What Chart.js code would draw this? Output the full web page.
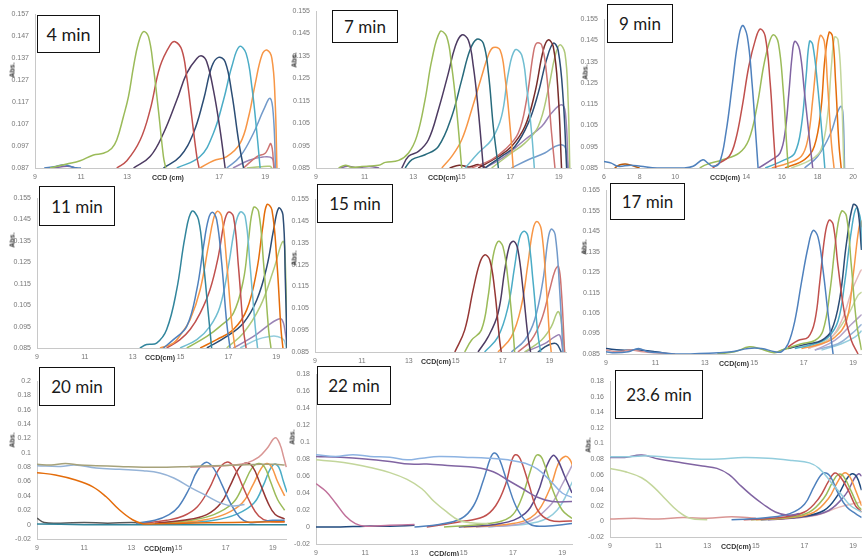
<!DOCTYPE html>
<html><head><meta charset="utf-8">
<script src="https://cdn.jsdelivr.net/npm/chart.js@4.4.0/dist/chart.umd.min.js"></script>
<style>
body{margin:0;width:862px;height:556px;background:#fff;position:relative;overflow:hidden;font-family:'Liberation Sans',sans-serif}
canvas{position:absolute}
.box{position:absolute;border:1.6px solid #111;background:#fff;font-family:Lato,'Open Sans',sans-serif;font-size:17px;color:#1a1a1a;display:flex;align-items:center;justify-content:center;box-sizing:border-box;white-space:nowrap}
.xt{position:absolute;font:bold 7px 'Liberation Sans',sans-serif;color:#333;transform:translate(-50%,-50%);white-space:nowrap}
.yt{position:absolute;font:bold 7px 'Liberation Sans',sans-serif;color:#333;transform:translate(-50%,-50%) rotate(-90deg);white-space:nowrap}
</style></head><body>
<script>
// ---------- tick labels ----------
const xTicks4 = [9, 11, 13, 17, 19];
const xTicksStd = [9, 11, 13, 15, 17, 19];
const xTicks9 = [6, 8, 10, 14, 16, 18, 20];
const yTicks4 = [0.087, 0.097, 0.107, 0.117, 0.127, 0.137, 0.147, 0.157];
const yTicks085 = [0.085, 0.095, 0.105, 0.115, 0.125, 0.135, 0.145, 0.155];
const yTicks17 = [0.085, 0.095, 0.105, 0.115, 0.125, 0.135, 0.145, 0.155, 0.165];
const yTicks20 = [-0.02, 0, 0.02, 0.04, 0.06, 0.08, 0.1, 0.12, 0.14, 0.16, 0.18, 0.2];
const yTicks22 = [-0.02, 0, 0.02, 0.04, 0.06, 0.08, 0.1, 0.12, 0.14, 0.16, 0.18];
const panelTitles = ['4 min', '7 min', '9 min', '11 min', '15 min', '17 min', '20 min', '22 min', '23.6 min'];

// ---------- series: [CCD (cm), Abs.] ----------
const series4min = [
 [[9.65,0.087],[10.38,0.0888],[10.96,0.0903],[11.54,0.0929],[11.97,0.0937],[12.33,0.0959],[12.55,0.0997],[12.84,0.1103],[13.06,0.1194],[13.28,0.1331],[13.49,0.1437],[13.71,0.149],[13.93,0.1467],[14.14,0.1331],[14.36,0.1134],[14.58,0.0922],[14.68,0.087]],
 [[12.55,0.087],[12.99,0.0903],[13.57,0.0997],[14.0,0.1134],[14.43,0.1331],[14.87,0.1429],[15.09,0.1444],[15.38,0.1406],[15.59,0.1285],[15.81,0.1103],[16.03,0.0922],[16.13,0.087]],
 [[13.28,0.087],[14.0,0.0922],[14.58,0.1028],[15.16,0.1179],[15.59,0.13],[16.03,0.1368],[16.25,0.1379],[16.46,0.1353],[16.75,0.1225],[17.04,0.1043],[17.26,0.087]],
 [[14.58,0.087],[15.3,0.0922],[15.88,0.1028],[16.32,0.1179],[16.68,0.1331],[16.97,0.1373],[17.26,0.1353],[17.55,0.1209],[17.84,0.0997],[18.06,0.087]],
 [[15.16,0.087],[16.17,0.0922],[16.75,0.1028],[17.19,0.1179],[17.55,0.1331],[17.88,0.1422],[18.17,0.1391],[18.42,0.124],[18.64,0.1028],[18.78,0.087]],
 [[16.17,0.087],[16.75,0.0903],[17.33,0.0922],[17.91,0.0982],[18.28,0.1103],[18.57,0.1255],[18.86,0.1384],[19.07,0.1406],[19.29,0.1368],[19.43,0.1179],[19.51,0.087]],
 [[17.33,0.087],[17.91,0.0922],[18.49,0.1028],[18.93,0.1134],[19.22,0.1187],[19.36,0.1103],[19.45,0.087]],
 [[18.06,0.087],[18.64,0.0922],[19.0,0.0937],[19.25,0.098],[19.38,0.087]],
 [[17.6,0.087],[18.3,0.0905],[18.9,0.092],[19.3,0.0915],[19.4,0.087]],
 [[9.4,0.087],[9.9,0.0877],[10.3,0.0885],[10.7,0.0872],[11.0,0.087]],
 [[9.8,0.087],[10.4,0.0878],[10.8,0.087]],
 [[18.2,0.087],[18.8,0.0876],[19.2,0.0878],[19.3,0.087]]
];
const colors4min = ['#9BBB59','#C0504D','#4D3B62','#2C4D75','#4BACC6','#F79646','#729ACA','#CD7371','#9983B5','#4F81BD','#8064A2','#AFC97A'];

const series7min = [
 [[9.93,0.085],[10.21,0.0862],[10.48,0.0853],[10.89,0.0857],[11.58,0.0862],[11.85,0.0875],[12.4,0.0884],[12.81,0.0917],[13.15,0.0991],[13.49,0.1154],[13.77,0.1332],[14.11,0.1458],[14.38,0.1436],[14.59,0.1302],[14.79,0.111],[15.0,0.085]],
 [[12.53,0.085],[12.81,0.0902],[13.22,0.0924],[13.63,0.0976],[14.04,0.111],[14.45,0.1273],[14.73,0.1391],[15.0,0.1443],[15.27,0.1421],[15.48,0.1302],[15.68,0.111],[15.89,0.085]],
 [[12.67,0.085],[12.95,0.0887],[13.49,0.0909],[14.04,0.0946],[14.59,0.108],[15.0,0.1243],[15.34,0.1376],[15.62,0.1424],[15.89,0.1406],[16.1,0.1273],[16.3,0.1035],[16.51,0.085]],
 [[14.18,0.085],[14.59,0.0902],[15.0,0.0976],[15.41,0.111],[15.82,0.1258],[16.1,0.1354],[16.3,0.1387],[16.58,0.1376],[16.78,0.1258],[16.99,0.1035],[17.12,0.085]],
 [[15.14,0.085],[15.68,0.0917],[16.23,0.0976],[16.64,0.108],[16.92,0.1273],[17.19,0.1376],[17.47,0.1354],[17.67,0.1213],[17.88,0.1006],[17.99,0.085]],
 [[15.41,0.085],[16.23,0.0887],[16.78,0.0932],[17.33,0.1006],[17.67,0.1154],[17.95,0.1362],[18.08,0.1406],[18.29,0.1399],[18.49,0.1273],[18.7,0.1006],[18.84,0.085]],
 [[15.68,0.085],[16.51,0.0902],[17.05,0.0946],[17.6,0.1035],[18.01,0.1184],[18.36,0.1376],[18.56,0.1421],[18.77,0.1391],[18.97,0.1184],[19.11,0.085]],
 [[15.96,0.085],[16.64,0.0902],[17.19,0.0946],[17.74,0.105],[18.15,0.1184],[18.49,0.1332],[18.77,0.1406],[18.97,0.1376],[19.18,0.1154],[19.32,0.085]],
 [[16.23,0.085],[17.05,0.0917],[17.6,0.0961],[18.15,0.1035],[18.56,0.1198],[18.84,0.1347],[19.04,0.1399],[19.25,0.1362],[19.38,0.1154],[19.45,0.085]],
 [[15.96,0.085],[16.78,0.0902],[17.6,0.0976],[18.29,0.1035],[18.7,0.1095],[19.11,0.1132],[19.27,0.1095],[19.38,0.085]],
 [[17.05,0.085],[17.74,0.0887],[18.42,0.0917],[18.84,0.0946],[19.11,0.0954],[19.27,0.094],[19.38,0.085]],
 [[10.0,0.085],[10.3,0.0858],[10.7,0.0852],[11.2,0.0857],[11.6,0.085]],
 [[14.5,0.085],[14.9,0.0862],[15.3,0.0855],[15.7,0.0865],[16.0,0.085]]
];
const colors7min = ['#9BBB59','#4D3B62','#276A7C','#F79646','#6FBDD1','#CD7371','#772C2A','#2C4D75','#AFC97A','#9983B5','#729ACA','#8064A2','#772C2A'];

const series9min = [
 [[6.0,0.0881],[6.41,0.0873],[6.77,0.0858],[7.51,0.0863],[8.06,0.0858],[8.98,0.085],[10.46,0.085],[11.01,0.0858],[11.56,0.0889],[11.84,0.0873],[12.11,0.0858],[12.48,0.0873],[12.85,0.1014],[13.22,0.1249],[13.5,0.143],[13.77,0.1519],[14.05,0.1469],[14.32,0.1249],[14.55,0.0983],[14.66,0.085]],
 [[12.11,0.085],[12.48,0.0873],[13.04,0.0905],[13.4,0.0983],[13.77,0.114],[14.14,0.1328],[14.51,0.1453],[14.78,0.1503],[15.06,0.1469],[15.34,0.1249],[15.52,0.1014],[15.65,0.085]],
 [[11.38,0.085],[11.75,0.0866],[12.67,0.0889],[13.59,0.092],[14.14,0.0983],[14.6,0.114],[14.97,0.1328],[15.28,0.1437],[15.52,0.1476],[15.8,0.1437],[16.07,0.1218],[16.26,0.0967],[16.35,0.085]],
 [[14.69,0.085],[15.43,0.0889],[15.89,0.092],[16.17,0.1014],[16.39,0.1202],[16.57,0.1375],[16.72,0.1445],[16.99,0.1406],[17.27,0.1202],[17.55,0.0983],[17.73,0.085]],
 [[15.06,0.085],[16.17,0.0889],[16.72,0.092],[17.09,0.1046],[17.36,0.1281],[17.55,0.1445],[17.73,0.143],[18.01,0.1234],[18.28,0.0983],[18.41,0.085]],
 [[15.43,0.085],[16.35,0.0873],[17.09,0.0905],[17.45,0.0983],[17.73,0.1171],[17.97,0.1375],[18.15,0.1472],[18.38,0.1445],[18.56,0.1249],[18.78,0.0967],[18.93,0.085]],
 [[16.17,0.085],[17.27,0.0889],[17.82,0.0952],[18.19,0.1124],[18.41,0.1359],[18.65,0.1487],[18.84,0.1469],[19.02,0.1249],[19.2,0.0967],[19.33,0.085]],
 [[16.53,0.085],[17.64,0.0889],[18.19,0.0936],[18.56,0.1093],[18.78,0.1328],[18.96,0.1465],[19.15,0.1453],[19.33,0.1249],[19.48,0.085]],
 [[17.27,0.085],[18.01,0.0905],[18.74,0.1014],[19.11,0.1108],[19.33,0.114],[19.44,0.1093],[19.52,0.085]],
 [[6.6,0.085],[6.9,0.0865],[7.3,0.0868],[7.7,0.0858],[8.0,0.085]]
];
const colors9min = ['#4F81BD','#C0504D','#9BBB59','#8064A2','#4BACC6','#F79646','#E46C0A','#C3D69B','#729ACA','#B65708'];

const series11min = [
 [[13.3,0.085],[13.58,0.0866],[14.0,0.0873],[14.42,0.0936],[14.84,0.1122],[15.19,0.1371],[15.47,0.1488],[15.75,0.1449],[15.96,0.1247],[16.16,0.1013],[16.3,0.085]],
 [[14.28,0.085],[14.7,0.0889],[15.26,0.0951],[15.68,0.1122],[15.96,0.1324],[16.16,0.1449],[16.33,0.1483],[16.51,0.1449],[16.72,0.1247],[16.93,0.0967],[17.07,0.085]],
 [[14.14,0.085],[14.7,0.0873],[15.05,0.092],[15.4,0.0982],[15.82,0.1122],[16.16,0.1324],[16.37,0.1449],[16.54,0.1488],[16.72,0.1464],[16.93,0.1247],[17.14,0.0967],[17.28,0.085]],
 [[14.42,0.085],[14.98,0.0889],[15.4,0.0936],[15.82,0.1013],[16.23,0.1122],[16.58,0.1278],[16.82,0.1433],[17.0,0.1484],[17.21,0.1464],[17.42,0.1231],[17.63,0.0936],[17.74,0.085]],
 [[14.98,0.085],[15.68,0.0889],[16.23,0.0951],[16.65,0.1044],[17.0,0.1231],[17.28,0.1418],[17.49,0.1484],[17.7,0.1464],[17.91,0.1231],[18.12,0.0951],[18.22,0.085]],
 [[15.26,0.085],[16.1,0.0904],[16.65,0.0951],[17.21,0.1013],[17.63,0.1169],[17.84,0.1355],[18.05,0.1506],[18.26,0.1488],[18.47,0.1247],[18.68,0.0936],[18.78,0.085]],
 [[15.82,0.085],[16.51,0.0889],[17.21,0.0936],[17.77,0.1029],[18.19,0.1215],[18.44,0.1418],[18.61,0.1519],[18.82,0.1495],[19.03,0.1247],[19.2,0.0936],[19.28,0.085]],
 [[16.1,0.085],[16.93,0.0904],[17.63,0.0967],[18.19,0.1075],[18.61,0.1231],[18.89,0.1402],[19.1,0.1503],[19.28,0.1472],[19.38,0.1169],[19.45,0.085]],
 [[16.93,0.085],[17.63,0.092],[18.33,0.1044],[18.89,0.1215],[19.28,0.1348],[19.38,0.1247],[19.45,0.085]],
 [[17.21,0.085],[18.05,0.0904],[18.61,0.0951],[19.03,0.0982],[19.24,0.0982],[19.38,0.092],[19.45,0.085]],
 [[17.49,0.085],[18.19,0.0889],[18.75,0.0904],[19.03,0.0904],[19.31,0.0889],[19.42,0.085]]
];
const colors11min = ['#31859C','#4F81BD','#F79646','#C0504D','#6FBDD1','#9BBB59','#E46C0A','#2C4D75','#AFC97A','#9983B5','#93CDDD'];

const series15min = [
 [[14.96,0.085],[15.38,0.095],[15.74,0.1133],[16.02,0.1256],[16.23,0.1294],[16.45,0.1271],[16.66,0.1133],[16.87,0.0904],[16.94,0.085]],
 [[15.38,0.085],[15.67,0.0904],[16.09,0.095],[16.38,0.1103],[16.59,0.1287],[16.8,0.1356],[17.01,0.1333],[17.23,0.1179],[17.44,0.095],[17.51,0.085]],
 [[15.95,0.085],[16.38,0.0919],[16.8,0.1026],[17.09,0.1225],[17.3,0.134],[17.48,0.1356],[17.65,0.1317],[17.87,0.1133],[18.08,0.0919],[18.19,0.085]],
 [[16.23,0.085],[16.8,0.0919],[17.23,0.1057],[17.51,0.1241],[17.72,0.1371],[17.91,0.1402],[18.08,0.1379],[18.29,0.1179],[18.5,0.0934],[18.62,0.085]],
 [[16.8,0.085],[17.37,0.0919],[17.79,0.1057],[18.08,0.1256],[18.29,0.1409],[18.46,0.1447],[18.65,0.1409],[18.86,0.1149],[19.0,0.0919],[19.07,0.085]],
 [[17.37,0.085],[17.94,0.0904],[18.36,0.0996],[18.72,0.1179],[18.93,0.1363],[19.07,0.1412],[19.24,0.1386],[19.43,0.1133],[19.57,0.085]],
 [[17.65,0.085],[18.22,0.0904],[18.65,0.0996],[19.0,0.1133],[19.24,0.1225],[19.38,0.1241],[19.5,0.1133],[19.64,0.085]],
 [[17.94,0.085],[18.65,0.0904],[19.07,0.0965],[19.35,0.1034],[19.47,0.1011],[19.64,0.085]],
 [[17.94,0.085],[18.79,0.0888],[19.21,0.0919],[19.43,0.0927],[19.57,0.085]],
 [[18.5,0.085],[18.93,0.0881],[19.28,0.0888],[19.5,0.085]]
];
const colors15min = ['#953735','#9BBB59','#4D3B62','#4BACC6','#F79646','#729ACA','#CD7371','#AFC97A','#9983B5','#2C4D75'];

const series17min = [
 [[9.0,0.0861],[9.36,0.0856],[9.9,0.0861],[10.31,0.0877],[10.71,0.0861],[11.25,0.0856],[11.79,0.085],[13.54,0.0856],[14.08,0.0861],[14.75,0.0877],[15.29,0.0877],[15.83,0.0861],[16.1,0.0861],[16.37,0.09],[16.64,0.1011],[16.91,0.12],[17.18,0.1374],[17.38,0.1453],[17.58,0.1421],[17.78,0.1263],[17.99,0.1043],[18.19,0.085]],
 [[16.37,0.0885],[16.77,0.0916],[17.18,0.0932],[17.45,0.1011],[17.65,0.12],[17.85,0.1421],[18.02,0.1503],[18.19,0.1484],[18.39,0.1279],[18.66,0.1043],[18.93,0.0916],[19.2,0.085]],
 [[16.1,0.0869],[16.91,0.09],[17.45,0.0916],[17.78,0.0964],[18.06,0.1153],[18.33,0.1437],[18.53,0.1547],[18.73,0.1524],[18.93,0.1279],[19.13,0.1011],[19.34,0.0869]],
 [[16.37,0.0877],[17.18,0.09],[17.72,0.0916],[18.12,0.0964],[18.46,0.1121],[18.73,0.139],[19.0,0.1579],[19.18,0.1563],[19.34,0.1358]],
 [[16.64,0.0877],[17.45,0.09],[17.99,0.0932],[18.39,0.1011],[18.66,0.12],[18.93,0.1453],[19.13,0.1563],[19.31,0.15],[19.35,0.1358]],
 [[16.91,0.0877],[17.72,0.09],[18.26,0.0932],[18.73,0.1011],[19.0,0.1232],[19.2,0.1437],[19.31,0.15],[19.35,0.1469]],
 [[17.18,0.0877],[17.99,0.0916],[18.53,0.1011],[18.93,0.1153],[19.27,0.1248],[19.35,0.1263]],
 [[17.18,0.0877],[18.12,0.0932],[18.8,0.1043],[19.2,0.1137],[19.35,0.1153]],
 [[17.45,0.0869],[18.26,0.0916],[18.93,0.0995],[19.35,0.1043]],
 [[17.45,0.0869],[18.39,0.09],[18.93,0.0948],[19.35,0.0995]],
 [[17.72,0.0869],[18.53,0.09],[19.07,0.0932],[19.35,0.0964]],
 [[9.0,0.0869],[9.5,0.0861],[10.0,0.0869],[10.5,0.0861],[11.0,0.0856],[11.8,0.085]],
 [[13.5,0.085],[14.2,0.0861],[14.8,0.0885],[15.2,0.0877],[15.8,0.0856],[16.1,0.0869],[16.5,0.088]],
 [[9.0,0.0877],[9.6,0.0869],[10.3,0.0869],[11.0,0.0861],[11.6,0.085]]
];
const colors17min = ['#4F81BD','#C0504D','#9BBB59','#2C4D75','#4BACC6','#F79646','#E6B9B8','#C3D69B','#B3A2C7','#95B3D7','#93CDDD','#D99694','#9BBB59','#1F497D'];

const series20min = [
 [[9,0.084],[9.6,0.083],[10.2,0.085],[10.8,0.083],[11.5,0.082],[12.5,0.081],[13.5,0.08],[14.5,0.08],[15.5,0.081],[16.5,0.082],[17.5,0.083],[18.5,0.084],[19.1,0.084],[19.5,0.083]],
 [[9,0.082],[10,0.081],[10.6,0.083],[11.5,0.079],[12.5,0.077],[13.5,0.075],[14.2,0.072],[14.8,0.065],[15.5,0.052],[16.2,0.04],[16.8,0.03],[17.3,0.026],[17.8,0.028]],
 [[9,0.0724],[9.78,0.0692],[10.64,0.0622],[11.35,0.053],[11.92,0.0391],[12.49,0.0207],[13.05,0.0068],[13.48,0.0013],[13.77,0.001],[15.2,0.002],[17.3,0.003],[19.5,0.004]],
 [[15.5,0.08],[16.5,0.081],[17.3,0.083],[17.9,0.086],[18.4,0.094],[18.75,0.106],[19.1,0.121],[19.3,0.112],[19.45,0.095],[19.57,0.08]],
 [[13.2,0.002],[14.0,0.006],[14.6,0.014],[15.0,0.025],[15.45,0.05],[15.8,0.075],[16.18,0.087],[16.5,0.078],[16.85,0.055],[17.2,0.03],[17.6,0.01],[18.0,0.003],[18.5,0.004],[19.0,0.006],[19.5,0.006]],
 [[13.5,0.002],[14.5,0.006],[15.2,0.012],[15.8,0.025],[16.3,0.05],[16.7,0.077],[17.04,0.087],[17.35,0.08],[17.7,0.055],[18.05,0.03],[18.4,0.012],[18.8,0.005],[19.5,0.004]],
 [[14.0,0.002],[15.2,0.006],[16.2,0.014],[16.8,0.03],[17.2,0.055],[17.55,0.078],[17.86,0.086],[18.15,0.08],[18.45,0.058],[18.8,0.03],[19.1,0.014],[19.5,0.008]],
 [[14.2,0.002],[15.5,0.006],[16.5,0.014],[17.3,0.03],[17.75,0.055],[18.1,0.078],[18.39,0.085],[18.65,0.08],[18.9,0.06],[19.2,0.035],[19.5,0.02]],
 [[14.5,0.002],[16.0,0.006],[17.0,0.015],[17.7,0.03],[18.15,0.055],[18.5,0.078],[18.74,0.085],[18.95,0.08],[19.2,0.06],[19.5,0.04]],
 [[15.0,0.002],[16.5,0.006],[17.5,0.015],[18.2,0.03],[18.6,0.055],[18.85,0.075],[19.06,0.084],[19.25,0.08],[19.45,0.06],[19.6,0.045]],
 [[9,0.001],[11,0.0],[13,0.0],[15,0.0],[17,0.0],[19.6,0.0]],
 [[9,0.009],[9.3,0.003],[10,0.002],[11,0.003],[12,0.002],[13,0.003],[13.5,0.002]]
];
const colors20min = ['#A6A27A','#95B3D7','#E46C0A','#D99694','#4F81BD','#C0504D','#953735','#9BBB59','#F79646','#4BACC6','#31859C','#595959'];

const series22min = [
 [[9,0.085],[9.8,0.083],[10.5,0.085],[11.2,0.083],[12.0,0.082],[12.7,0.079],[13.3,0.081],[14.0,0.083],[15.0,0.082],[16.0,0.081],[16.8,0.079],[17.5,0.075],[18.0,0.068],[18.5,0.055],[19.0,0.04],[19.4,0.035]],
 [[9,0.083],[10,0.082],[11,0.08],[12,0.077],[12.8,0.074],[13.5,0.074],[14.5,0.072],[15.5,0.07],[16.2,0.065],[16.8,0.055],[17.4,0.045],[18.0,0.035],[18.6,0.03],[19.4,0.03]],
 [[9,0.079],[9.8,0.077],[10.5,0.074],[11.2,0.07],[12.0,0.064],[12.7,0.056],[13.3,0.045],[13.8,0.03],[14.3,0.018],[14.8,0.008],[15.3,0.005],[16,0.004]],
 [[9,0.051],[9.4,0.042],[9.8,0.028],[10.2,0.013],[10.6,0.004],[11.0,0.001],[12,0.002],[13,0.003]],
 [[13.0,0.0],[14.0,0.003],[14.9,0.01],[15.4,0.025],[15.8,0.055],[16.1,0.082],[16.26,0.087],[16.45,0.08],[16.8,0.05],[17.2,0.02],[17.7,0.003],[18.3,0.001],[19.4,0.004]],
 [[13.5,0.0],[14.8,0.006],[15.8,0.012],[16.3,0.025],[16.7,0.05],[16.95,0.078],[17.1,0.085],[17.3,0.08],[17.65,0.05],[18.0,0.02],[18.5,0.008],[19.4,0.007]],
 [[14.2,0.0],[16.0,0.004],[16.9,0.012],[17.3,0.03],[17.7,0.065],[17.9,0.082],[18.02,0.085],[18.2,0.08],[18.6,0.045],[19.0,0.02],[19.4,0.01]],
 [[14.8,0.0],[16.5,0.004],[17.5,0.016],[18.0,0.04],[18.35,0.07],[18.62,0.084],[18.8,0.08],[19.1,0.06],[19.4,0.04]],
 [[15.0,0.0],[17.0,0.004],[17.9,0.015],[18.5,0.045],[18.85,0.075],[19.11,0.083],[19.3,0.08],[19.45,0.07]],
 [[15.5,0.0],[17.5,0.005],[18.5,0.025],[19.0,0.05],[19.45,0.075]],
 [[16,0.0],[18,0.006],[18.8,0.02],[19.45,0.055]],
 [[9,0.0],[10,0.0],[11,0.001],[12,0.001],[13,0.002]]
];
const colors22min = ['#8DB3E2','#8064A2','#C3D69B','#C0709A','#4F81BD','#C0504D','#9BBB59','#5B4A8B','#F79646','#B3A2C7','#93CDDD','#1F497D'];

const series23min = [
 [[9,0.083],[9.8,0.083],[10.6,0.084],[11.5,0.082],[12.5,0.08],[13.5,0.08],[14.5,0.082],[15.5,0.081],[16.5,0.078],[17.2,0.075],[17.6,0.068],[18.1,0.05],[18.5,0.035],[18.9,0.02],[19.35,0.012]],
 [[9,0.082],[9.6,0.082],[10.3,0.085],[11.0,0.08],[12,0.075],[12.8,0.071],[13.4,0.068],[13.9,0.06],[14.3,0.048],[14.8,0.034],[15.3,0.022],[15.8,0.012],[16.3,0.008],[16.8,0.01]],
 [[9,0.068],[9.6,0.064],[10.3,0.056],[10.8,0.044],[11.3,0.028],[11.8,0.013],[12.3,0.004],[13,0.002]],
 [[14.0,0.002],[15.5,0.005],[16.4,0.01],[17.0,0.022],[17.4,0.045],[17.77,0.062],[18.05,0.058],[18.4,0.035],[18.75,0.018],[19.1,0.01],[19.35,0.005]],
 [[14.5,0.002],[16.0,0.005],[17.0,0.012],[17.6,0.03],[18.0,0.052],[18.25,0.062],[18.5,0.056],[18.8,0.04],[19.1,0.02],[19.35,0.012]],
 [[14.8,0.002],[16.3,0.005],[17.2,0.012],[17.8,0.03],[18.15,0.05],[18.38,0.06],[18.6,0.058],[18.9,0.04],[19.2,0.02],[19.35,0.015]],
 [[15.0,0.002],[16.5,0.005],[17.4,0.012],[18.0,0.03],[18.35,0.05],[18.63,0.062],[18.85,0.058],[19.1,0.04],[19.35,0.02]],
 [[15.2,0.002],[16.8,0.006],[17.8,0.014],[18.4,0.035],[18.75,0.055],[18.96,0.061],[19.15,0.057],[19.35,0.04]],
 [[15.5,0.002],[17.0,0.006],[18.0,0.014],[18.7,0.035],[19.05,0.055],[19.23,0.061],[19.35,0.058]],
 [[16,0.003],[17.5,0.008],[18.4,0.018],[19.35,0.025]],
 [[9,0.003],[10,0.004],[11,0.003],[12,0.005],[13,0.004],[14,0.006],[15,0.004]]
];
const colors23min = ['#93CDDD','#8064A2','#C3D69B','#4F81BD','#C0504D','#9BBB59','#F79646','#1F497D','#8064A2','#E6B9B8','#D99694'];

// ---------- panel layout (page px) ----------
const fmt3 = v => v.toFixed(3);
const fmtS = v => String(parseFloat(v.toFixed(2)));
const panels = [
 {cell:[0,0,287,182],   plot:[35,14,279,168],  x:[9,19.6],  xt:xTicks4,   y:[0.087,0.157], yt:yTicks4,   f:fmt3, s:series4min,  c:colors4min,
  box:[37,15,63,38,18], xl:[168,177,'CCD (cm)'], yl:[12,70]},
 {cell:[287,0,288,182], plot:[316,11,571,168], x:[9,19.5],  xt:xTicksStd, y:[0.085,0.155], yt:yTicks085, f:fmt3, s:series7min,  c:colors7min,
  box:[332,10,66,33,17], xl:[443,177,'CCD(cm)'], yl:[294,60]},
 {cell:[575,0,287,182], plot:[604,19,856,168], x:[6,20],    xt:xTicks9,   y:[0.085,0.155], yt:yTicks085, f:fmt3, s:series9min,  c:colors9min,
  box:[607,4,66,39,17], xl:[725,177,'CCD(cm)'], yl:[585,72]},
 {cell:[0,180,287,186], plot:[37,198,287,348], x:[9,19.45], xt:xTicksStd, y:[0.085,0.155], yt:yTicks085, f:fmt3, s:series11min, c:colors11min,
  box:[39,186,76,40,17], xl:[160,357,'CCD(cm)'], yl:[12,240]},
 {cell:[287,180,288,186],plot:[315,199,566,352],x:[9,19.7],  xt:xTicksStd, y:[0.085,0.155], yt:yTicks085, f:fmt3, s:series15min, c:colors15min,
  box:[317,184,76,39,17], xl:[436,361,'CCD(cm)'], yl:[294,258]},
 {cell:[575,180,287,186],plot:[606,185,862,354],x:[9,19.35], xt:xTicksStd, y:[0.085,0.165], yt:yTicks17,  f:fmt3, s:series17min, c:colors17min,
  box:[610,183,75,37,17], xl:[734,363,'CCD(cm)'], yl:[584,247]},
 {cell:[0,362,287,194], plot:[37,381,287,539], x:[9,19.6],  xt:xTicksStd, y:[-0.02,0.2],   yt:yTicks20,  f:fmtS, s:series20min, c:colors20min,
  box:[39,367,76,39,17], xl:[159,548,'CCD(cm)'], yl:[12,440]},
 {cell:[287,362,288,194],plot:[316,374,572,544],x:[9,19.4],  xt:xTicksStd, y:[-0.02,0.18],  yt:yTicks22,  f:fmtS, s:series22min, c:colors22min,
  box:[317,366,74,39,17], xl:[444,553,'CCD(cm)'], yl:[292,437]},
 {cell:[575,362,287,194],plot:[610,381,862,537],x:[9,19.35], xt:xTicksStd, y:[-0.02,0.18],  yt:yTicks22,  f:fmtS, s:series23min, c:colors23min,
  box:[615,370,88,49,17], xl:[736,546,'CCD(cm)'], yl:[588,445]}
];

panels.forEach((p, idx) => {
  const [L,T,W,H] = p.cell, [pl,pt,pr,pb] = p.plot;
  const yw = pl - L, padTop = pt - T, padRight = L + W - pr, xh = T + H - pb;
  const cv = document.createElement('canvas');
  cv.width = W; cv.height = H; cv.style.left = L + 'px'; cv.style.top = T + 'px';
  document.body.appendChild(cv);
  const tickFont = {size: 7, family: 'Liberation Sans'};
  new Chart(cv, {
    type: 'line',
    data: {datasets: p.s.map((pts, i) => ({
      data: pts.map(([x, y]) => ({x, y})),
      borderColor: p.c[i], borderWidth: 1.5, pointRadius: 0, fill: false,
      tension: 0.4
    }))},
    options: {
      responsive: false, animation: false, devicePixelRatio: 1, events: [],
      layout: {padding: {left: 0, top: padTop, right: padRight, bottom: 0}},
      plugins: {legend: {display: false}, tooltip: {enabled: false}},
      scales: {
        x: {type: 'linear', min: p.x[0], max: p.x[1],
            afterBuildTicks: s => { s.ticks = p.xt.map(v => ({value: v})); },
            afterFit: s => { s.height = xh; },
            grid: {display: false, drawTicks: false},
            border: {display: true, color: '#c8c8c8', width: 1},
            ticks: {padding: 5, font: tickFont, color: '#777', maxRotation: 0, autoSkip: false, callback: v => String(v)}},
        y: {type: 'linear', min: p.y[0], max: p.y[1],
            afterBuildTicks: s => { s.ticks = p.yt.map(v => ({value: v})); },
            afterFit: s => { s.width = yw; },
            grid: {display: false, drawTicks: false},
            border: {display: true, color: '#c8c8c8', width: 1},
            ticks: {padding: 6, font: tickFont, color: '#777', autoSkip: false, callback: v => p.f(v)}}
      }
    }
  });
  const b = document.createElement('div');
  b.className = 'box';
  b.style.left = p.box[0] + 'px'; b.style.top = p.box[1] + 'px';
  b.style.width = p.box[2] + 'px'; b.style.height = p.box[3] + 'px';
  b.style.fontSize = p.box[4] + 'px';
  b.textContent = panelTitles[idx];
  document.body.appendChild(b);
  const xl = document.createElement('div');
  xl.className = 'xt'; xl.style.left = p.xl[0] + 'px'; xl.style.top = p.xl[1] + 'px';
  xl.textContent = p.xl[2];
  document.body.appendChild(xl);
  const yl = document.createElement('div');
  yl.className = 'yt'; yl.style.left = p.yl[0] + 'px'; yl.style.top = p.yl[1] + 'px';
  yl.textContent = 'Abs.';
  document.body.appendChild(yl);
});
</script>
</body></html>
